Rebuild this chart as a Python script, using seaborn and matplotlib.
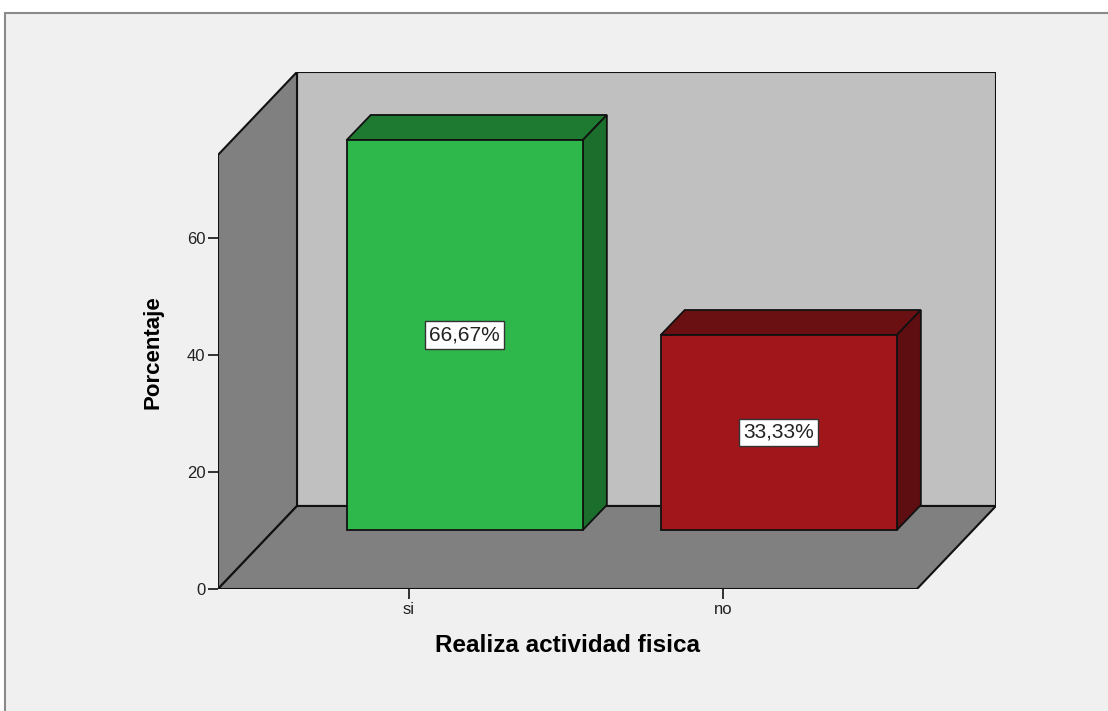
import numpy as np
import pandas as pd
import matplotlib
matplotlib.use('Agg')
import matplotlib.pyplot as plt
from matplotlib.patches import Polygon, Rectangle
import seaborn as sns

# Data
categorias = ['si', 'no']
porcentajes = [66.67, 33.33]
etiquetas = ['66,67%', '33,33%']
colores_frente = ['#2eb84b', '#a1161a']
colores_arriba = ['#1f7a31', '#6b1012']
colores_lado = ['#1c6e2c', '#5e0d10']

df = pd.DataFrame({'cat': categorias, 'pct': porcentajes})

sns.set_style('white')
plt.rcParams['font.family'] = ['Liberation Sans', 'DejaVu Sans']

fig = plt.figure(figsize=(11.08, 7.11), dpi=100, facecolor='white')
# marco gris del fondo
fig.patches.append(Rectangle((5 / 1108, -0.1), 1.2, (711 - 13) / 711 + 0.1,
                             transform=fig.transFigure, facecolor='#f0f0f0',
                             edgecolor='#8a8a8a', linewidth=1.5, zorder=-5))

ax = fig.add_axes([218 / 1108, 122 / 711, 778 / 1108, 517 / 711])
ax.set_facecolor('none')

# geometria 3D (en unidades de datos)
x0, x1 = -0.608, 1.618
DX, DY = 0.2516, 14.19
H = 74.2
bar_w = 0.752
fx, fy = 0.178, 10.09    # desplazamiento de la cara frontal de la barra
bdx, bdy = 0.0764, 4.27  # profundidad de la barra

pared = dict(edgecolor='#111111', linewidth=1.5, joinstyle='miter')
ax.add_patch(Polygon([(x0 + DX, DY), (x1 + DX, DY), (x1 + DX, H + DY), (x0 + DX, H + DY)],
                     facecolor='#c0c0c0', zorder=0, **pared))
ax.add_patch(Polygon([(x0, 0), (x0, H), (x0 + DX, H + DY), (x0 + DX, DY)],
                     facecolor='#808080', zorder=0.5, **pared))
ax.add_patch(Polygon([(x0, 0), (x1, 0), (x1 + DX, DY), (x0 + DX, DY)],
                     facecolor='#808080', zorder=0.5, **pared))

sns.barplot(data=df, x='cat', y='pct', hue='cat', palette=colores_frente,
            legend=False, width=bar_w, edgecolor='#111111', linewidth=1.3,
            saturation=1, ax=ax, zorder=3)

barras = [q for q in ax.patches if q.get_zorder() == 3]
for i, p in enumerate(barras):
    p.set_x(p.get_x() + fx)
    p.set_y(fy)
    xa, xb = p.get_x(), p.get_x() + p.get_width()
    ya, yb = fy, fy + p.get_height()
    ax.add_patch(Polygon([(xa, yb), (xb, yb), (xb + bdx, yb + bdy), (xa + bdx, yb + bdy)],
                         facecolor=colores_arriba[i], edgecolor='#111111', linewidth=1.3, zorder=2))
    ax.add_patch(Polygon([(xb, ya), (xb + bdx, ya + bdy), (xb + bdx, yb + bdy), (xb, yb)],
                         facecolor=colores_lado[i], edgecolor='#111111', linewidth=1.3, zorder=2))
    ax.text((xa + xb) / 2, (ya + yb) / 2, etiquetas[i], ha='center', va='center',
            fontsize=15, color='#222222', zorder=5,
            bbox=dict(boxstyle='square,pad=0.2', facecolor='white', edgecolor='#333333', linewidth=1))

ax.set_xlim(x0, x0 + 778 / 314)
ax.set_ylim(0, 517 / 5.85)
ax.set_yticks([0, 20, 40, 60])
ax.set_xticks([0, 1])
ax.set_xticklabels(categorias)
for s in ax.spines.values():
    s.set_visible(False)
ax.tick_params(axis='both', direction='out', length=7, width=1.3, color='#222222',
               labelsize=12, labelcolor='#222222', left=True, bottom=True, pad=2)

ax.set_xlabel('Realiza actividad fisica', fontsize=17.5, fontweight='bold', color='black')
ax.set_ylabel('Porcentaje', fontsize=16, fontweight='bold', color='black')
ax.xaxis.set_label_coords((567.5 - 218) / 778, -(646 - 589) / 517, transform=ax.transAxes)
ax.yaxis.set_label_coords(-(218 - 153) / 778, (589 - 352) / 517, transform=ax.transAxes)
ax.xaxis.label.set_va('center')
ax.yaxis.label.set_va('center')

fig.savefig('out.png', dpi=100, facecolor=fig.get_facecolor())
